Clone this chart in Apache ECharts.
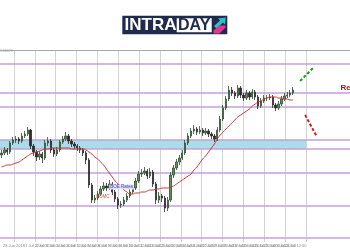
<!DOCTYPE html>
<html><head><meta charset="utf-8">
<script src="https://cdn.jsdelivr.net/npm/echarts@6/dist/echarts.min.js"></script>
<style>html,body{margin:0;padding:0;background:#fff}#c{width:350px;height:250px}</style>
</head><body><div id="c"></div>
<script>
// Prices in points (1/10000): 11697 = 1.1697
const opens = [11695,11697,11700,11698,11707,11710,11711,11709,11714,11716,
 11720,11704,11698,11693,11696,11692,11707,11709,11700,11696,
 11700,11708,11711,11714,11709,11706,11704,11702,11700,11697,
 11690,11665,11650,11652,11656,11661,11664,11662,11666,11658,
 11651,11645,11646,11650,11654,11658,11662,11669,11676,11677,
 11679,11674,11678,11666,11650,11654,11652,11642,11650,11675,
 11682,11688,11692,11697,11707,11714,11719,11721,11718,11720,
 11717,11719,11716,11714,11711,11720,11731,11742,11751,11760,
 11757,11754,11762,11755,11752,11757,11753,11758,11753,11744,
 11749,11752,11752,11753,11745,11742,11746,11751,11754,11755,
 11757];
const closes = [11697,11700,11698,11707,11710,11711,11709,11714,11716,11720,
 11704,11698,11693,11696,11692,11707,11709,11700,11696,11700,
 11708,11711,11714,11709,11706,11704,11702,11700,11697,11690,
 11665,11650,11652,11656,11661,11664,11662,11666,11658,11651,
 11645,11646,11650,11654,11658,11662,11669,11676,11677,11679,
 11674,11678,11666,11650,11654,11652,11642,11650,11675,11682,
 11688,11692,11697,11707,11714,11719,11721,11718,11720,11717,
 11719,11716,11714,11711,11720,11731,11742,11751,11760,11757,
 11754,11762,11755,11752,11757,11753,11758,11753,11744,11749,
 11752,11752,11753,11745,11742,11746,11751,11754,11755,11757,
 11760];
const highs = [11700,11703,11702,11709,11713,11714,11713,11717,11719,11723,
 11721,11706,11700,11699,11698,11710,11713,11711,11702,11703,
 11710,11714,11718,11716,11711,11708,11706,11704,11702,11699,
 11692,11667,11655,11659,11664,11668,11667,11670,11668,11660,
 11653,11649,11653,11657,11661,11665,11672,11679,11681,11683,
 11681,11682,11680,11668,11658,11656,11654,11653,11678,11685,
 11691,11695,11700,11710,11717,11722,11725,11723,11724,11722,
 11722,11721,11718,11716,11723,11734,11745,11754,11764,11763,
 11759,11765,11764,11757,11760,11759,11761,11760,11755,11752,
 11755,11755,11756,11755,11747,11749,11754,11757,11758,11760,
 11763];
const lows = [11692,11695,11695,11696,11705,11707,11706,11707,11712,11714,
 11701,11694,11689,11690,11687,11690,11704,11697,11693,11694,
 11698,11706,11709,11706,11703,11701,11699,11697,11694,11686,
 11662,11647,11647,11650,11654,11659,11659,11660,11655,11648,
 11641,11642,11644,11648,11652,11656,11660,11667,11673,11675,
 11671,11672,11663,11646,11647,11648,11638,11639,11648,11672,
 11680,11685,11690,11695,11705,11712,11716,11715,11716,11714,
 11715,11713,11711,11708,11709,11718,11729,11740,11749,11754,
 11751,11752,11752,11749,11750,11750,11751,11750,11741,11742,
 11747,11749,11750,11742,11739,11740,11744,11749,11752,11753,
 11755];
const maValues = [11683,11684,11685,11685,11686,11687,11688,11690,11692,11694,
 11696,11697,11698,11699,11700,11701,11701,11702,11702,11702,
 11702,11702,11702,11702,11701,11701,11701,11701,11701,11700,
 11698,11696,11693,11691,11688,11685,11681,11677,11673,11669,
 11666,11663,11660,11658,11656,11656,11657,11657,11658,11658,
 11659,11660,11660,11661,11661,11662,11662,11662,11663,11664,
 11666,11668,11670,11672,11674,11676,11680,11683,11687,11691,
 11694,11698,11702,11706,11711,11715,11718,11721,11724,11727,
 11730,11733,11735,11737,11739,11741,11744,11746,11748,11749,
 11751,11752,11753,11753,11753,11752,11752,11751,11751,11750,
 11750];
const levelLines = [11786, 11757, 11743, 11710, 11701, 11677, 11644, 11612];
const supplyZone = [11701, 11710];
const dateLabels = ["28 Jun 2018","29 Jun 08:00","1 Jul 22:00","2 Jul 12:00","3 Jul 04:00","3 Jul 20:00","4 Jul 12:00",
 "5 Jul 04:00","5 Jul 20:00","6 Jul 12:00","9 Jul 04:00","9 Jul 20:00","10 Jul 12:00","11 Jul 04:00",
 "11 Jul 20:00","12 Jul 12:00","13 Jul 04:00","13 Jul 20:00","16 Jul 12:00","17 Jul 04:00","17 Jul 20:00",
 "18 Jul 12:00","19 Jul 04:00","19 Jul 20:00","20 Jul 12:00","23 Jul 04:00","23 Jul 20:00","24 Jul 12:00"];
// annotation anchors in bar/price units
const upArrow = [[102.9, 11769], [107.7, 11783]];
const downArrow = [[104.6, 11735], [108.7, 11713]];
const zoneEndBar = 105;
const slotCount = 120;

const chart = echarts.init(document.getElementById('c'), null, {renderer: 'canvas'});
const candleData = closes.map((c, i) => [i + 0.5, opens[i], c, lows[i], highs[i]]);
const maData = maValues.map((v, i) => [i + 0.5, v]);

const option = {
  animation: false,
  backgroundColor: '#ffffff',
  grid: [
    {left: 0, right: 0, top: 50, bottom: 8},
    {left: 5.5, width: 300.5, top: 50, bottom: 8}
  ],
  xAxis: [
    {gridIndex: 0, type: 'value', min: 0, max: slotCount, position: 'top',
     axisLine: {show: true, lineStyle: {color: '#a8a8a8', width: 1}},
     axisTick: {show: false}, axisLabel: {show: false}, splitLine: {show: false}},
    {gridIndex: 1, type: 'value', min: 0, max: 14, interval: 1, position: 'top',
     axisLine: {show: false}, axisTick: {show: false}, axisLabel: {show: false},
     splitLine: {show: true, showMinLine: true, showMaxLine: true, lineStyle: {color: '#d3d3d3', width: 1}}},
    {gridIndex: 1, type: 'value', min: 0, max: 14, interval: 0.5, position: 'bottom',
     axisLine: {show: false}, axisTick: {show: false}, splitLine: {show: false},
     axisLabel: {show: true, fontSize: 4, color: '#8a8a8a', margin: 2, showMinLabel: true, showMaxLabel: true,
       formatter: v => dateLabels[Math.round(v * 2)] || ''}}
  ],
  yAxis: [
    {gridIndex: 0, type: 'value', min: 11608, max: 11800, show: false, splitLine: {show: false}},
    {gridIndex: 1, type: 'value', min: 0, max: 1, show: false, splitLine: {show: false}}
  ],
  series: [
    {
      type: 'candlestick', xAxisIndex: 0, yAxisIndex: 0, z: 3,
      data: candleData,
      encode: {x: 0, y: [1, 2, 3, 4]},
      barWidth: 1.8,
      itemStyle: {color: '#5f8f5f', color0: '#2e2e2e', borderColor: '#2c4f2c', borderColor0: '#2a2a2a', borderWidth: 0.8},
      markArea: {
        silent: true, z: 1,
        itemStyle: {color: '#abdce9'},
        data: [[{xAxis: 0, yAxis: supplyZone[0]}, {xAxis: zoneEndBar, yAxis: supplyZone[1]}]]
      },
      markLine: {
        silent: true, z: 1, symbol: ['none', 'none'],
        label: {show: false},
        lineStyle: {color: '#c6a0db', width: 1.5, type: 'solid'},
        data: levelLines.map(v => ({yAxis: v}))
      }
    },
    {
      type: 'line', xAxisIndex: 0, yAxisIndex: 0, z: 4,
      data: maData, smooth: true, showSymbol: false,
      lineStyle: {color: '#c93535', width: 1},
      markLine: {
        silent: true, z: 5, symbol: ['none', 'arrow'], symbolSize: [0, 7],
        label: {show: false},
        data: [
          [{coord: upArrow[0], lineStyle: {color: '#1f9a1f', width: 2, type: [3, 2]}}, {coord: upArrow[1], lineStyle: {color: '#1f9a1f', width: 2, type: [3, 2]}}],
          [{coord: downArrow[0], lineStyle: {color: '#d41a1a', width: 2, type: [3, 2]}}, {coord: downArrow[1], lineStyle: {color: '#d41a1a', width: 2, type: [3, 2]}}]
        ]
      },
      markPoint: {
        silent: true, symbol: 'rect', symbolSize: 1,
        itemStyle: {color: 'rgba(0,0,0,0)'},
        data: [
          {coord: [35.3, 11653], label: {show: true, position: 'inside', formatter: 'FOMC', color: '#d64646', fontSize: 4.5, fontFamily: 'Liberation Sans'}},
          {coord: [41.7, 11663], label: {show: true, position: 'inside', formatter: 'BOE Rates', color: '#4141c4', fontSize: 4.5, fontFamily: 'Liberation Sans', backgroundColor: '#e2e0f6', padding: [0, 1]}},
          {coord: [116.6, 11762], label: {show: true, position: 'right', distance: 0, formatter: 'Resistance', color: '#9c1a1a', fontSize: 8, fontWeight: 'bold', fontFamily: 'Liberation Sans'}}
        ]
      }
    }
  ],
  graphic: [
    {type: 'rect', shape: {x: 122.3, y: 15.7, width: 105, height: 18.6}, style: {fill: '#1e2b4c'}},
    {type: 'rect', shape: {x: 176.7, y: 18.3, width: 35, height: 14}, style: {fill: '#ffffff'}},
    {type: 'text', x: 124.5, y: 25.5, style: {text: 'INTRA', fill: '#ffffff', font: 'bold 17px "Liberation Sans", Arial, sans-serif', verticalAlign: 'middle', textVerticalAlign: 'middle'}},
    {type: 'text', x: 194.2, y: 25.8, style: {text: 'DAY', fill: '#1e2b4c', font: 'bold 16px "Liberation Sans", Arial, sans-serif', align: 'center', textAlign: 'center', verticalAlign: 'middle', textVerticalAlign: 'middle'}},
    {type: 'polygon', shape: {points: [[214, 26], [220, 20.5], [218, 18.5], [225.7, 17.4], [225, 24.5], [223, 22.5], [216.5, 28.5]]}, style: {fill: '#2cc1c9'}},
    {type: 'polygon', shape: {points: [[213.5, 33.5], [213.5, 30.5], [219.5, 25.5], [225.5, 25.5], [225.5, 27.5], [219.5, 33.5]]}, style: {fill: '#e5358f'}},
    {type: 'text', x: 0, y: 49, style: {text: '1.18072', fill: '#9a9a9a', font: '3.5px sans-serif'}}
  ]
};
chart.setOption(option);
</script>
</body></html>
